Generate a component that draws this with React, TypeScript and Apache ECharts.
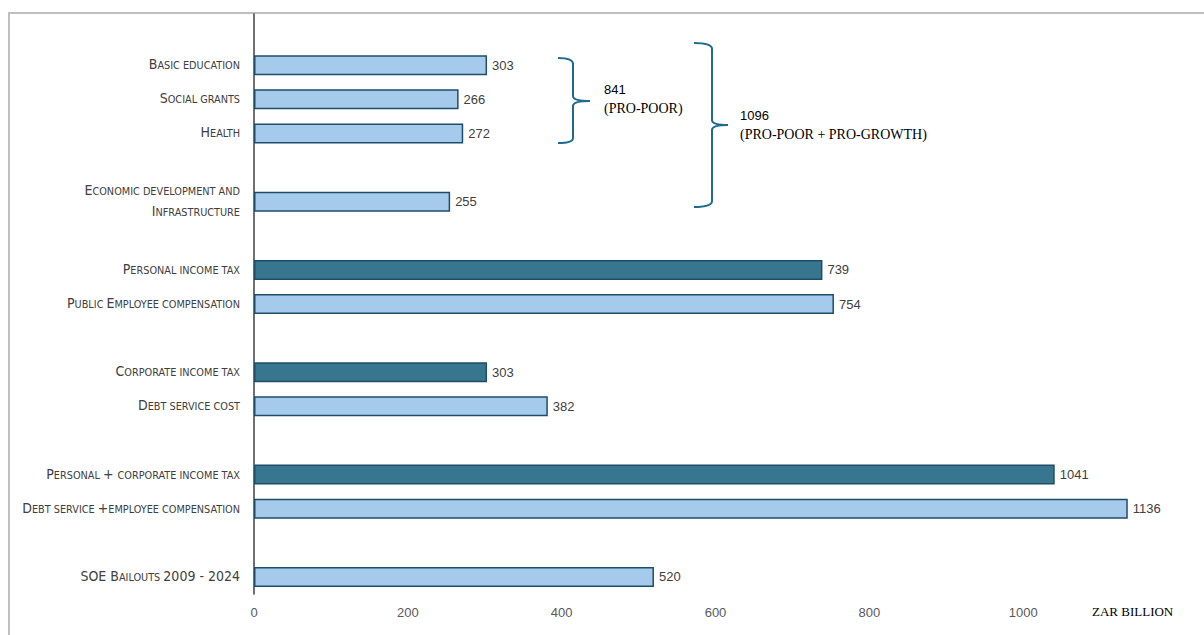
import React, { useEffect, useRef } from "react";
import * as echarts from "echarts";

const categories: string[] = [
  "",
  "Basic education",
  "Social grants",
  "Health",
  "",
  "Economic development and\nInfrastructure",
  "",
  "Personal income tax",
  "Public Employee compensation",
  "",
  "Corporate income tax",
  "Debt service cost",
  "",
  "Personal + corporate income tax",
  "Debt service +employee compensation",
  "",
  "SOE Bailouts 2009 - 2024",
];
const values: (number | null)[] = [null, 303, 266, 272, null, 255, null, 739, 754, null, 303, 382, null, 1041, 1136, null, 520];
const kinds: string[] = ["", "spend", "spend", "spend", "", "spend", "", "tax", "spend", "", "tax", "spend", "", "tax", "spend", "", "spend"];
const xTicks: number[] = [0, 200, 400, 600, 800, 1000, 1200];
const braceNotes = [
  { total: "841", label: "(PRO-POOR)" },
  { total: "1096", label: "(PRO-POOR + PRO-GROWTH)" },
];
const unitLabel = "ZAR BILLION";

const SANS = '"Liberation Sans", Arial, sans-serif';
const NARROW = '"Liberation Sans Narrow", "DejaVu Sans Condensed", "Liberation Sans", sans-serif';
const SERIF = '"Liberation Serif", "Times New Roman", serif';

function smallCaps(s: string): string {
  if (!s) return "";
  return s
    .split("\n")
    .map((line) => {
      let out = "";
      let cur = "";
      let curType = "";
      const flush = () => {
        if (cur) out += `{${curType}|${cur}}`;
        cur = "";
      };
      for (const ch of line) {
        let t: string;
        if (ch === " ") t = curType || "b";
        else if (ch >= "a" && ch <= "z") t = "s";
        else t = "b";
        if (t !== curType) {
          flush();
          curType = t;
        }
        cur += ch >= "a" && ch <= "z" ? ch.toUpperCase() : ch;
      }
      flush();
      return out;
    })
    .join("\n");
}

echarts.graphic.registerShape(
  "brace1",
  echarts.graphic.extendPath(
    "M558,58 Q573,58 573,64 L573,96 Q573,101 590,101 Q573,101 573,106 L573,138 Q573,143 558,143",
    {}
  )
);
echarts.graphic.registerShape(
  "brace2",
  echarts.graphic.extendPath(
    "M694,43 Q712,43 712,49 L712,120 Q712,125 728,125 Q712,125 712,130 L712,201 Q712,207 694,207",
    {}
  )
);

export default function App() {
  const ref = useRef<HTMLDivElement>(null);
  useEffect(() => {
    if (!ref.current) return;
    const chart = echarts.init(ref.current, null, { renderer: "svg" });
    const braceColor = "#1f6a8f";
    chart.setOption({
      animation: false,
      backgroundColor: "#ffffff",
      grid: { left: 254, right: 27, top: 14, bottom: 41, containLabel: false },
      xAxis: {
        type: "value",
        min: 0,
        max: 1200,
        interval: 200,
        splitLine: { show: false },
        axisLine: { show: false },
        axisTick: { show: false },
        axisLabel: {
          color: "#595959",
          fontSize: 13,
          fontFamily: SANS,
          margin: 12,
          formatter: (v: number) => (v === xTicks[xTicks.length - 1] ? "" : String(v)),
        },
      },
      yAxis: {
        type: "category",
        inverse: true,
        data: categories,
        axisLine: { show: true, lineStyle: { color: "#404040", width: 1.5 } },
        axisTick: { show: false },
        axisLabel: {
          margin: 14,
          align: "right",
          padding: [0, 0, 9, 0],
          formatter: (v: string) => smallCaps(v),
          rich: {
            b: { fontSize: 14, color: "#404040", fontFamily: NARROW, lineHeight: 21, verticalAlign: "bottom" },
            s: { fontSize: 10.8, color: "#404040", fontFamily: NARROW, lineHeight: 19, verticalAlign: "bottom" },
          },
        },
      },
      series: [
        {
          type: "bar",
          barWidth: 20,
          data: values.map((v, i) =>
            v === null
              ? "-"
              : {
                  value: v,
                  itemStyle: {
                    color: kinds[i] === "tax" ? "#387690" : "#a6caeb",
                    borderColor: "#1e4d69",
                    borderWidth: 1.5,
                  },
                }
          ),
          label: {
            show: true,
            position: "right",
            distance: 5,
            color: "#404040",
            fontSize: 13,
            fontFamily: SANS,
          },
        },
      ],
      graphic: [
        {
          type: "rect",
          z: -10,
          silent: true,
          shape: { x: 9, y: 13, width: 1260, height: 700 },
          style: { fill: "none", stroke: "#bfbfbf", lineWidth: 2 },
        },
        {
          type: "brace1",
          style: { fill: null, stroke: braceColor, lineWidth: 2 },
        },
        {
          type: "brace2",
          style: { fill: null, stroke: braceColor, lineWidth: 2 },
        },
        {
          type: "text",
          x: 604,
          y: 83,
          style: { text: braceNotes[0].total, font: `13px ${SANS}`, fill: "#000" },
        },
        {
          type: "text",
          x: 604,
          y: 101,
          style: { text: braceNotes[0].label, font: `14px ${SERIF}`, fill: "#000" },
        },
        {
          type: "text",
          x: 740,
          y: 109,
          style: { text: braceNotes[1].total, font: `13px ${SANS}`, fill: "#000" },
        },
        {
          type: "text",
          x: 740,
          y: 127,
          style: { text: braceNotes[1].label, font: `14px ${SERIF}`, fill: "#000" },
        },
        {
          type: "text",
          x: 1092,
          y: 605,
          style: { text: unitLabel, font: `13px ${SERIF}`, fill: "#000" },
        },
      ],
    });
    return () => chart.dispose();
  }, []);
  return (
    <div
      ref={ref}
      style={{ position: "fixed", left: 0, top: 0, width: 1204, height: 635 }}
    />
  );
}
